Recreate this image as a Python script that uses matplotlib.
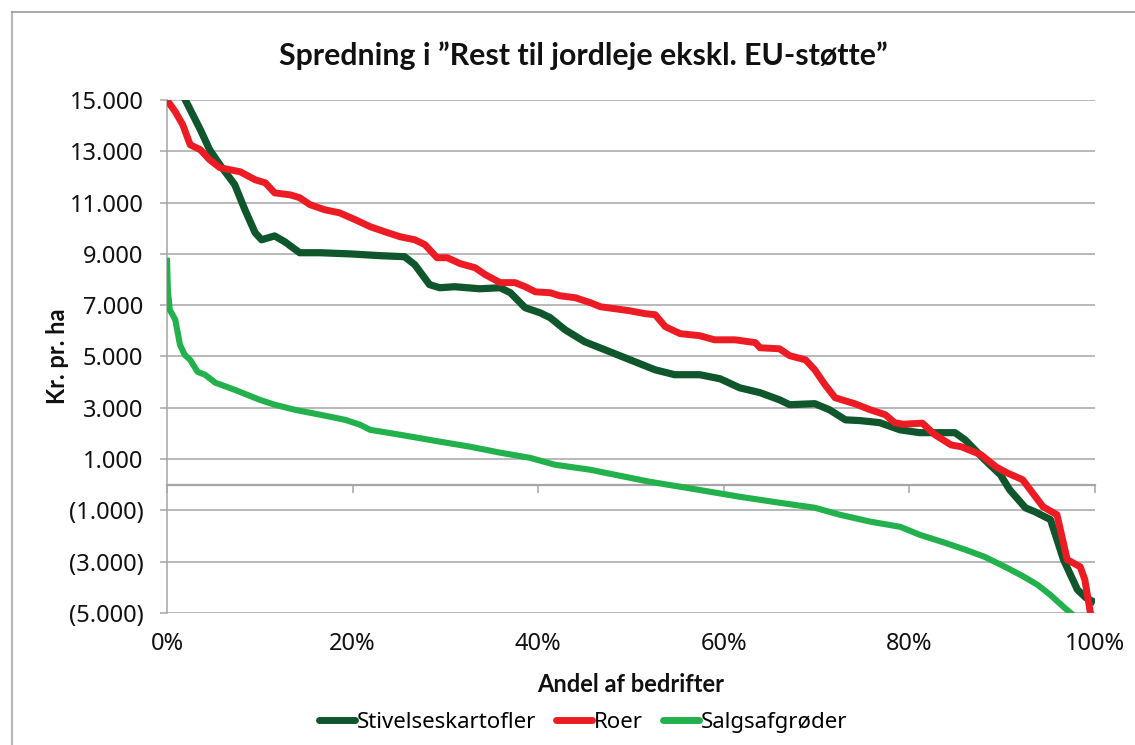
"""
Spredning i "Rest til jordleje ekskl. EU-støtte" - curves per crop type.
Writes out.png
"""

import matplotlib
matplotlib.use("Agg")
import matplotlib.pyplot as plt
from matplotlib.lines import Line2D
from matplotlib.ticker import FuncFormatter, PercentFormatter

plt.rcParams["font.family"] = ["Noto Sans", "DejaVu Sans"]
BOLD_FONT = ["Lato", "DejaVu Sans"]

TITLE = "Spredning i \u201dRest til jordleje ekskl. EU-støtte\u201d"
X_LABEL = "Andel af bedrifter"
Y_LABEL = "Kr. pr. ha"
SERIES_NAMES = ["Stivelseskartofler", "Roer", "Salgsafgrøder"]

# Stivelseskartofler (dark green)
kart_x = [0.0, 1.7, 3.6, 4.6, 5.7, 7.3, 8.4, 9.5, 10.2, 11.6, 12.7, 14.3, 16.5, 19.7,
          23.0, 25.6, 26.7, 28.3, 29.4, 31.0, 33.7, 35.9, 37.0, 38.6, 40.2, 41.3, 42.9,
          45.0, 47.2, 49.9, 52.6, 54.7, 57.4, 59.6, 61.7, 63.9, 66.0, 67.1, 69.8, 71.4,
          73.1, 74.7, 76.8, 79.0, 81.1, 83.3, 84.9, 86.0, 88.1, 89.8, 90.8, 92.5, 93.5,
          95.2, 96.6, 98.1, 99.0, 100.0]
kart_y = [16800, 15200, 13840, 13060, 12475, 11700, 10720, 9825, 9550, 9700, 9470, 9045,
          9045, 9000, 8930, 8890, 8580, 7800, 7680, 7720, 7640, 7680, 7485, 6900, 6705,
          6510, 6040, 5575, 5260, 4870, 4480, 4290, 4290, 4130, 3780, 3590, 3310, 3120,
          3160, 2920, 2530, 2500, 2420, 2140, 2030, 2030, 2030, 1750, 975, 390, -195,
          -900, -1050, -1360, -2920, -4090, -4400, -4600]

# Roer (red)
roer_x = [0.0, 0.9, 1.7, 2.5, 3.6, 4.6, 5.7, 7.9, 9.5, 10.6, 11.6, 13.3, 14.3, 15.4, 17.0,
          18.6, 20.3, 21.9, 23.5, 25.1, 26.7, 27.8, 29.1, 30.2, 31.6, 33.2, 34.3, 35.9,
          37.5, 38.6, 39.7, 41.3, 42.3, 44.0, 45.6, 46.7, 48.3, 49.9, 51.5, 52.6, 53.7,
          55.3, 57.4, 59.0, 61.2, 63.4, 63.9, 66.0, 67.1, 68.8, 69.8, 70.9, 72.0, 74.1,
          75.8, 77.4, 78.4, 79.3, 81.4, 82.7, 84.5, 85.6, 87.7, 89.4, 90.6, 92.2, 94.4,
          95.9, 97.0, 98.4, 98.9, 99.5, 99.8]
roer_y = [15000, 14540, 14035, 13255, 13060, 12670, 12360, 12200, 11890, 11770, 11380,
          11300, 11190, 10920, 10720, 10600, 10330, 10060, 9860, 9670, 9550, 9360, 8850,
          8850, 8620, 8460, 8190, 7880, 7880, 7720, 7520, 7485, 7370, 7290, 7100, 6940,
          6860, 6780, 6670, 6630, 6160, 5890, 5810, 5650, 5650, 5540, 5340, 5300, 5030,
          4870, 4480, 3900, 3390, 3160, 2920, 2730, 2420, 2360, 2400, 1960, 1550, 1480,
          1170, 680, 450, 195, -860, -1170, -2920, -3200, -3700, -5000, -5600]

# Salgsafgrøder (light green)
salg_x = [0.0, 0.1, 0.3, 0.9, 1.4, 1.9, 2.5, 3.3, 4.1, 5.2, 7.3, 10.0, 11.6, 13.8, 16.5,
          19.2, 20.8, 21.9, 25.1, 29.4, 32.7, 35.9, 39.1, 41.8, 45.6, 48.8, 52.0, 55.3,
          58.5, 61.7, 66.0, 69.8, 72.5, 75.8, 79.0, 81.1, 83.8, 86.0, 88.1, 90.3, 92.2,
          93.8, 95.2, 96.6, 97.6, 98.0]
salg_y = [8850, 7600, 6820, 6430, 5460, 5070, 4870, 4400, 4290, 3980, 3700, 3310, 3120,
          2920, 2730, 2530, 2340, 2140, 1950, 1680, 1480, 1250, 1050, 780, 585, 350, 117,
          -78, -273, -468, -702, -897, -1170, -1440, -1640, -1950, -2260, -2530, -2810,
          -3200, -3560, -3900, -4300, -4760, -5070, -5300]

Y_TICKS = [15000, 13000, 11000, 9000, 7000, 5000, 3000, 1000, -1000, -3000, -5000]
X_TICKS = [0, 20, 40, 60, 80, 100]

COLORS = ["#10562c", "#ed1c24", "#22b14c"]
GRID = "#a6a6a6"
TEXT = "#111111"


def yfmt(v, pos):
    s = f"{abs(v):,.0f}".replace(",", ".")
    return f"({s})" if v < 0 else s


fig = plt.figure(figsize=(11.35, 7.45), dpi=100)
ax = fig.add_axes([0.1471, 0.1772, 0.8177, 0.6886])

series = [(kart_x, kart_y), (roer_x, roer_y), (salg_x, salg_y)]
widths = [5.2, 5.0, 4.4]
for (xs, ys), c, lw, name in zip(series, COLORS, widths, SERIES_NAMES):
    ax.plot(xs, ys, color=c, lw=lw, solid_capstyle="butt", solid_joinstyle="round",
            label=name, zorder=3)

ymin, ymax = -5000, 15000
ax.set_xlim(0, 100)
ax.set_ylim(ymin, ymax)
ax.set_yticks(Y_TICKS)
ax.yaxis.set_major_formatter(FuncFormatter(yfmt))
ax.set_xticks(X_TICKS)
ax.xaxis.set_major_formatter(PercentFormatter(decimals=0))

ax.grid(axis="y", color=GRID, lw=1.1)
ax.set_axisbelow(True)
for side in ["top", "right", "bottom"]:
    ax.spines[side].set_visible(False)
ax.spines["left"].set_color(GRID)
ax.spines["left"].set_linewidth(1.1)

ax.tick_params(axis="y", direction="out", length=5, width=1.1, color=GRID,
               labelsize=17, labelcolor=TEXT, pad=12)
ax.tick_params(axis="x", length=0, labelsize=17, labelcolor=TEXT, pad=14)

# horizontal axis line drawn at zero, with its tick marks, labels stay at the bottom
zero_pos = (0 - ymin) / (ymax - ymin)
sec = ax.secondary_xaxis(zero_pos)
sec.set_xticks(X_TICKS)
sec.tick_params(direction="out", length=6, width=1.1, color=GRID, labelbottom=False,
                labeltop=False, bottom=True, top=False)
sec.spines["bottom"].set_color(GRID)
sec.spines["bottom"].set_linewidth(1.6)
sec.spines["top"].set_visible(False)

ax.set_xlabel(X_LABEL, fontsize=17, fontweight="bold", color=TEXT, labelpad=12,
              family=BOLD_FONT)
ax.set_ylabel(Y_LABEL, fontsize=17, fontweight="bold", color=TEXT, labelpad=0,
              family=BOLD_FONT)
fig.text(0.514, 0.925, TITLE, ha="center", va="center", fontsize=21.8,
         fontweight="bold", color=TEXT, family=BOLD_FONT)

handles = [Line2D([], [], color=c, lw=5, solid_capstyle="round") for c in COLORS]
fig.legend(handles, SERIES_NAMES, loc="center", bbox_to_anchor=(0.514, 0.03), ncol=3,
           frameon=False, fontsize=16, handlelength=1.6, handletextpad=0.1,
           columnspacing=0.9)

# outer chart frame (left and top edges visible)
fig.add_artist(Line2D([12 / 1135, 12 / 1135], [0, 1 - 12 / 745],
                      transform=fig.transFigure, color="#b8b8b8", lw=1.6))
fig.add_artist(Line2D([12 / 1135, 1], [1 - 12 / 745, 1 - 12 / 745],
                      transform=fig.transFigure, color="#999999", lw=1.2))

fig.savefig("out.png", dpi=100, facecolor="white")
